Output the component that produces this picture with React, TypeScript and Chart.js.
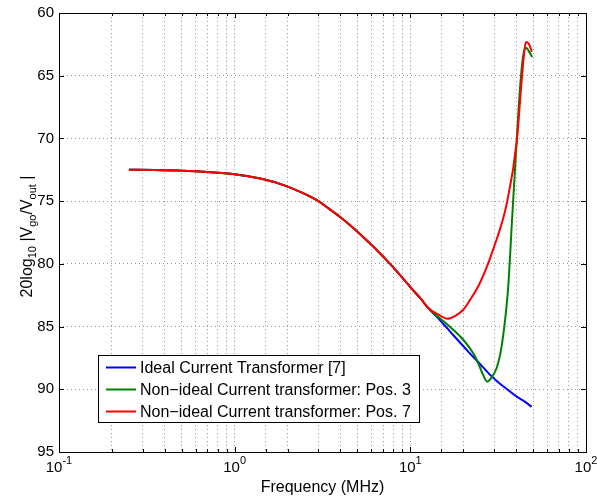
import React, { useEffect, useRef } from 'react';
import { Chart, registerables } from 'chart.js';

Chart.register(...registerables);

const FONT = '"Liberation Sans", Arial, Helvetica, sans-serif';

// Shared low-frequency part (all three curves overlap here)
const freqShared = [0.25, 0.35, 0.5, 0.7, 1.0, 1.4, 1.9, 2.4, 2.9, 3.4, 4.0, 4.7, 5.6, 6.5, 7.3, 8.5, 10, 11.5, 12.6];
const levelShared = [72.5, 72.52, 72.57, 72.67, 72.85, 73.2, 73.72, 74.3, 74.88, 75.55, 76.28, 77.1, 78.08, 78.95, 79.68, 80.7, 81.85, 82.8, 83.5];

// Ideal current transformer [7]
const freqIdealHigh = [14, 16, 18, 20, 22, 25, 28, 32, 36, 40, 45, 49];
const levelIdealHigh = [84.15, 85.05, 85.85, 86.55, 87.2, 88.0, 88.75, 89.5, 90.05, 90.55, 91.0, 91.4];

// Non-ideal, Pos. 3
const freqPos3High = [14, 16, 18, 20, 22, 23.8, 25.5, 27.4, 28.3, 29.5, 31, 32.5, 34, 36, 38, 40, 42, 44, 45.9, 47.5, 49.4];
const levelPos3High = [84.1, 84.75, 85.4, 86.05, 86.8, 87.6, 88.6, 89.4, 89.25, 88.9, 88.3, 87.2, 85.4, 82.0, 76.3, 71.0, 66.2, 63.3, 62.8, 63.1, 63.5];

// Non-ideal, Pos. 7
const freqPos7High = [14.7, 16.15, 17.94, 19.93, 21.84, 24.89, 29.52, 35.46, 40.43, 42.6, 44.32, 45.5, 47.3, 49.2];
const levelPos7High = [84.1, 84.38, 84.16, 83.68, 82.89, 81.53, 78.9, 75.15, 70.13, 66.14, 63.35, 62.31, 62.47, 63.1];

const seriesLabels = [
  'Ideal Current Transformer [7]',
  'Non\u2212ideal Current transformer: Pos. 3',
  'Non\u2212ideal Current transformer: Pos. 7',
];
const seriesColors = ['#0000ff', '#008000', '#ff0000'];

const xTickValues = [0.1, 1, 10, 100];
const xTickExponents = ['-1', '0', '1', '2'];
const yTickValues = [60, 65, 70, 75, 80, 85, 90, 95];

const xTitle = 'Frequency (MHz)';
const yTitleParts = [
  { t: '20log', sub: false },
  { t: '10', sub: true },
  { t: ' |V', sub: false },
  { t: 'go', sub: true },
  { t: '/V', sub: false },
  { t: 'out', sub: true },
  { t: ' |', sub: false },
];

function toPoints(fs: number[], vs: number[]) {
  return fs.map((f, i) => ({ x: f, y: vs[i] }));
}

const decorPlugin = {
  id: 'matlabDecor',
  afterDraw(chart: any) {
    const { ctx, chartArea: a, scales } = chart;
    const xs = scales.x;
    const ys = scales.y;
    ctx.save();
    ctx.strokeStyle = '#000';
    ctx.fillStyle = '#000';
    ctx.lineWidth = 1;

    // inward tick marks
    ctx.beginPath();
    for (const v of yTickValues) {
      const y = Math.round(ys.getPixelForValue(v)) + 0.5;
      ctx.moveTo(a.left, y);
      ctx.lineTo(a.left + 5, y);
      ctx.moveTo(a.right, y);
      ctx.lineTo(a.right - 5, y);
    }
    for (const t of xs.ticks) {
      const v = t.value;
      const lg = Math.log10(v);
      const major = Math.abs(lg - Math.round(lg)) < 1e-6;
      const len = major ? 5 : 3;
      const x = Math.round(xs.getPixelForValue(v)) + 0.5;
      ctx.moveTo(x, a.bottom);
      ctx.lineTo(x, a.bottom - len);
      ctx.moveTo(x, a.top);
      ctx.lineTo(x, a.top + len);
    }
    ctx.stroke();

    // axes box
    ctx.strokeRect(Math.round(a.left) + 0.5, Math.round(a.top) + 0.5, Math.round(a.right - a.left), Math.round(a.bottom - a.top));

    // y tick labels
    ctx.font = `15px ${FONT}`;
    ctx.textAlign = 'right';
    ctx.textBaseline = 'middle';
    for (const v of yTickValues) {
      ctx.fillText(String(v), a.left - 5, ys.getPixelForValue(v));
    }

    // x tick labels with superscripts
    ctx.textBaseline = 'alphabetic';
    ctx.textAlign = 'left';
    xTickValues.forEach((v, i) => {
      ctx.font = `15px ${FONT}`;
      const wb = ctx.measureText('10').width;
      ctx.font = `11px ${FONT}`;
      const we = ctx.measureText(xTickExponents[i]).width;
      const cx = xs.getPixelForValue(v);
      const x0 = cx - (wb + we) / 2;
      ctx.font = `15px ${FONT}`;
      ctx.fillText('10', x0, a.bottom + 20);
      ctx.font = `11px ${FONT}`;
      ctx.fillText(xTickExponents[i], x0 + wb, a.bottom + 12);
    });

    // x title
    ctx.font = `16px ${FONT}`;
    ctx.textAlign = 'center';
    ctx.fillText(xTitle, (a.left + a.right) / 2, 492);

    // y title (rotated, with subscripts)
    ctx.save();
    ctx.translate(31.5, 236.5);
    ctx.rotate(-Math.PI / 2);
    ctx.textAlign = 'left';
    let total = 0;
    for (const p of yTitleParts) {
      ctx.font = `${p.sub ? 11 : 16}px ${FONT}`;
      total += ctx.measureText(p.t).width;
    }
    let px = -total / 2;
    for (const p of yTitleParts) {
      ctx.font = `${p.sub ? 11 : 16}px ${FONT}`;
      ctx.fillText(p.t, px, p.sub ? 4 : 0);
      px += ctx.measureText(p.t).width;
    }
    ctx.restore();

    // legend
    const lx = 98.5, ly = 355.5, lw = 321, lh = 67;
    ctx.fillStyle = '#fff';
    ctx.fillRect(lx, ly, lw, lh);
    ctx.strokeStyle = '#000';
    ctx.lineWidth = 1;
    ctx.strokeRect(lx, ly, lw, lh);
    const rows = [367.5, 389.5, 411.5];
    chart.data.datasets.forEach((ds: any, i: number) => {
      ctx.strokeStyle = ds.borderColor;
      ctx.lineWidth = 2;
      ctx.beginPath();
      ctx.moveTo(106, rows[i]);
      ctx.lineTo(136, rows[i]);
      ctx.stroke();
      ctx.fillStyle = '#000';
      ctx.font = `16px ${FONT}`;
      ctx.textAlign = 'left';
      ctx.textBaseline = 'middle';
      ctx.fillText(ds.label, 140, rows[i] + 1);
    });
    ctx.restore();
  },
};

export default function App() {
  const canvasRef = useRef<HTMLCanvasElement | null>(null);

  useEffect(() => {
    const canvas = canvasRef.current;
    if (!canvas) return;
    const mk = (i: number, fs: number[], vs: number[], order: number) => ({
      label: seriesLabels[i],
      data: toPoints(fs, vs),
      borderColor: seriesColors[i],
      backgroundColor: seriesColors[i],
      borderWidth: 2,
      pointRadius: 0,
      fill: false,
      cubicInterpolationMode: 'monotone' as const,
      order,
    });
    const chart = new Chart(canvas, {
      type: 'line',
      data: {
        datasets: [
          mk(0, [...freqShared, ...freqIdealHigh], [...levelShared, ...levelIdealHigh], 2),
          mk(1, [...freqShared, ...freqPos3High], [...levelShared, ...levelPos3High], 1),
          mk(2, [...freqShared, ...freqPos7High], [...levelShared, ...levelPos7High], 0),
        ],
      },
      options: {
        responsive: false,
        animation: false,
        layout: { padding: { left: 59, right: 11, top: 13, bottom: 45 } },
        plugins: { legend: { display: false }, tooltip: { enabled: false } },
        scales: {
          x: {
            type: 'logarithmic',
            min: 0.1,
            max: 100,
            ticks: { display: false, autoSkip: false },
            grid: { color: '#9a9a9a', lineWidth: 1, drawTicks: false },
            border: { display: false, dash: [1, 3] },
          },
          y: {
            type: 'linear',
            reverse: true,
            min: 60,
            max: 95,
            ticks: { display: false, stepSize: 5 },
            grid: { color: '#9a9a9a', lineWidth: 1, drawTicks: false },
            border: { display: false, dash: [1, 3] },
          },
        },
      },
      plugins: [decorPlugin],
    });
    return () => chart.destroy();
  }, []);

  return (
    <div style={{ position: 'absolute', left: 0, top: 0, width: 597, height: 497, background: '#fff' }}>
      <canvas ref={canvasRef} width={597} height={497} style={{ display: 'block' }} />
    </div>
  );
}
